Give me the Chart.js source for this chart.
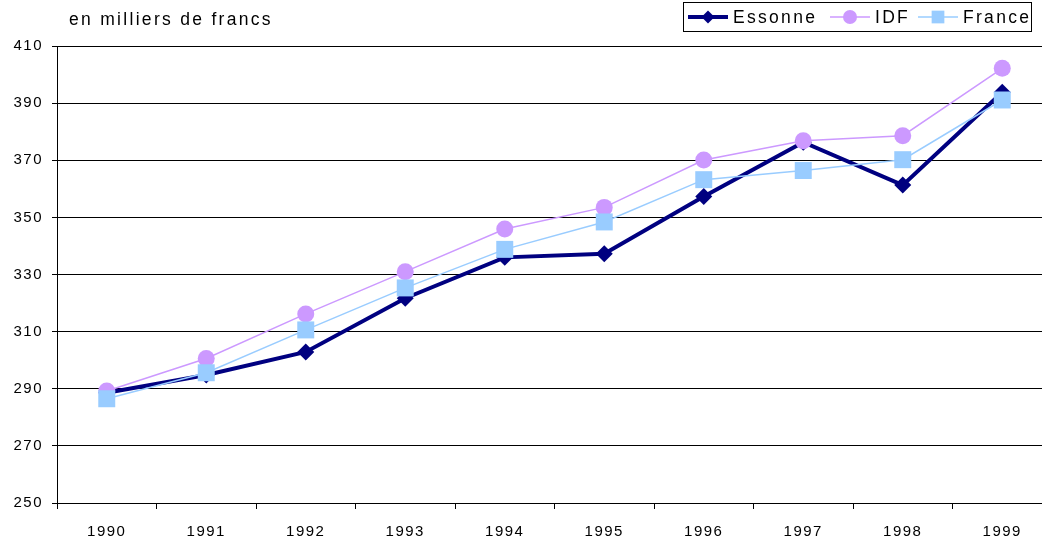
<!DOCTYPE html>
<html>
<head>
<meta charset="utf-8">
<script src="https://cdn.jsdelivr.net/npm/chart.js@4/dist/chart.umd.min.js"></script>
<style>
  html, body { margin: 0; padding: 0; background: #fff; overflow: hidden; }
  canvas { display: block; }
</style>
</head>
<body>
<canvas id="chart" width="1052" height="540"></canvas>
<script>
// Données (en milliers de francs)
const annees = ['1990', '1991', '1992', '1993', '1994', '1995', '1996', '1997', '1998', '1999'];
const essonne = [288.6, 294.8, 302.9, 321.7, 336.0, 337.3, 357.3, 376.3, 361.3, 393.8];
const idf = [289.2, 300.6, 316.2, 331.0, 345.9, 353.5, 370.1, 376.8, 378.6, 402.2];
const france = [286.5, 295.6, 310.6, 325.3, 338.8, 348.4, 363.2, 366.4, 370.2, 391.1];
const yTicks = [250, 270, 290, 310, 330, 350, 370, 390, 410];

const FONT = '"Liberation Sans", Arial, sans-serif';

// titre + légende dessinés à la main
const decorPlugin = {
    id: 'decor',
    beforeDraw(chart) {
        chart.ctx.letterSpacing = '1.5px';
    },
    afterDraw(chart) {
        const ctx = chart.ctx;
        ctx.save();
        ctx.letterSpacing = '2.3px';
        ctx.fillStyle = '#000';
        ctx.font = '17.5px ' + FONT;
        ctx.textBaseline = 'middle';
        ctx.textAlign = 'left';
        ctx.fillText('en milliers de francs', 69, 20);

        // cadre de la légende
        ctx.strokeStyle = '#000';
        ctx.lineWidth = 1;
        ctx.strokeRect(683.5, 2.5, 348, 29);

        const items = [
            { label: 'Essonne', x: 688, color: '#000080', lw: 4, style: 'rectRot', r: 6.5, tx: 733 },
            { label: 'IDF', x: 830, color: '#CC99FF', lw: 1.5, style: 'circle', r: 7, tx: 875 },
            { label: 'France', x: 918, color: '#99CCFF', lw: 1.5, style: 'rect', r: 9, tx: 963 }
        ];
        items.forEach(it => {
            ctx.strokeStyle = it.color;
            ctx.lineWidth = it.lw;
            ctx.beginPath();
            ctx.moveTo(it.x, 17);
            ctx.lineTo(it.x + 40, 17);
            ctx.stroke();
            ctx.fillStyle = it.color;
            Chart.helpers.drawPoint(ctx, { pointStyle: it.style, radius: it.r, borderWidth: 0 }, it.x + 20, 17);
            ctx.fillStyle = '#000';
            ctx.fillText(it.label, it.tx, 18);
        });
        ctx.restore();
    }
};

new Chart(document.getElementById('chart'), {
    type: 'line',
    data: {
        labels: annees,
        datasets: [
            {
                label: 'Essonne',
                data: essonne,
                borderColor: '#000080',
                backgroundColor: '#000080',
                borderWidth: 4,
                pointStyle: 'rectRot',
                pointRadius: 8.5,
                pointBorderWidth: 0,
                tension: 0,
                order: 2
            },
            {
                label: 'IDF',
                data: idf,
                borderColor: '#CC99FF',
                backgroundColor: '#CC99FF',
                borderWidth: 1.5,
                pointStyle: 'circle',
                pointRadius: 8.5,
                pointBorderWidth: 0,
                tension: 0,
                order: 1
            },
            {
                label: 'France',
                data: france,
                borderColor: '#99CCFF',
                backgroundColor: '#99CCFF',
                borderWidth: 1.5,
                pointStyle: 'rect',
                pointRadius: 12,
                pointBorderWidth: 0,
                tension: 0,
                order: 0
            }
        ]
    },
    options: {
        responsive: false,
        animation: false,
        layout: { autoPadding: false, padding: { top: 46, left: 0, right: 0, bottom: 0 } },
        plugins: {
            legend: { display: false },
            tooltip: { enabled: false }
        },
        scales: {
            x: {
                offset: true,
                grid: {
                    offset: true,
                    drawOnChartArea: false,
                    drawTicks: true,
                    tickLength: 6,
                    color: '#000'
                },
                border: { color: '#000', width: 1 },
                ticks: {
                    color: '#000',
                    font: { family: FONT, size: 15 },
                    padding: 14,
                    maxRotation: 0
                },
                afterFit(scale) {
                    scale.height = 37;
                    scale.paddingLeft = 0;
                    scale.paddingRight = 0;
                }
            },
            y: {
                min: 250,
                max: 410,
                afterBuildTicks(scale) { scale.ticks = yTicks.map(v => ({ value: v })); },
                grid: {
                    color: '#000',
                    lineWidth: 1,
                    tickLength: 5
                },
                border: { color: '#000', width: 1 },
                ticks: {
                    color: '#000',
                    font: { family: FONT, size: 15 },
                    padding: 9
                },
                afterFit(scale) {
                    scale.width = 57;
                    scale.paddingTop = 0;
                    scale.paddingBottom = 0;
                }
            }
        }
    },
    plugins: [decorPlugin]
});
</script>
</body>
</html>
